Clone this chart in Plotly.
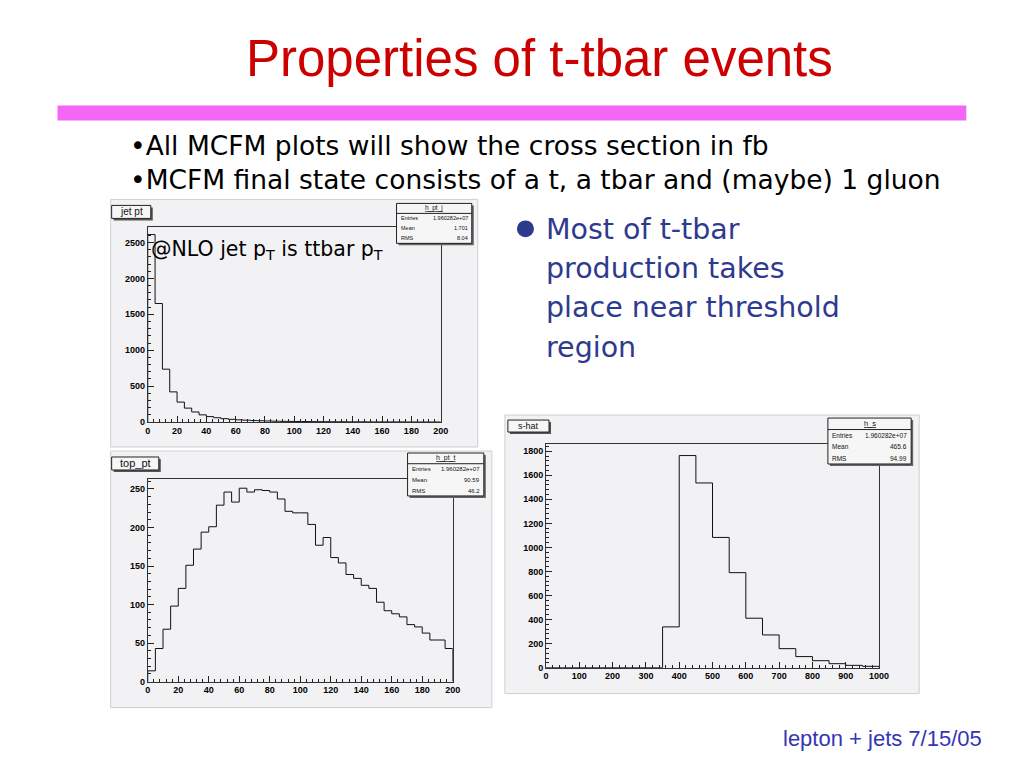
import plotly.graph_objects as go

# ---------------- data ----------------
jet_pt_edges = list(range(0, 205, 5))
jet_pt_values = [2610, 1650, 736, 420, 278, 194, 140, 100, 76, 60,
                 47, 38, 31, 26, 21, 18, 15, 12, 10, 9,
                 8, 7, 6, 5, 5, 4, 4, 3, 3, 3,
                 2, 2, 2, 2, 2, 1, 1, 1, 1, 1]

top_pt_edges = list(range(0, 205, 5))
top_pt_values = [14, 43, 68, 98, 121, 151, 172, 194, 201, 229,
                 246, 233, 251, 246, 249, 248, 246, 237, 221, 219,
                 219, 204, 177, 187, 161, 154, 139, 134, 125, 121,
                 103, 92, 88, 84, 74, 71, 63, 54, 54, 43]

shat_edges = list(range(0, 1050, 50))
shat_values = [0, 0, 0, 0, 0, 0, 0, 339, 1764, 1536,
               1083, 790, 411, 272, 158, 92, 58, 33, 19, 11]

stats_jet = ["h_pt_j", ("Entries", "1.960282e+07"), ("Mean", "1.701"), ("RMS", "8.04")]
stats_top = ["h_pt_t", ("Entries", "1.960282e+07"), ("Mean", "90.59"), ("RMS", "46.2")]
stats_shat = ["h_s", ("Entries", "1.960282e+07"), ("Mean", "465.6"), ("RMS", "94.99")]

# ---------------- helpers ----------------
OFF = 8  # page body margin
W, H = 1024 - 2 * OFF, 768 - 2 * OFF
SX, TX = 0.984, 4.8     # empirical screen correction
SY, TY = 0.995, -1.7


def X(px):
    return ((px - TX) / SX - OFF) / W


def Y(py):
    return 1 - ((py - TY) / SY - OFF) / H


def step_xy(edges, values):
    xs = [edges[0]] + list(edges) + [edges[-1]]
    ys = [0] + list(values) + [values[-1], 0]
    return xs, ys


fig = go.Figure()
shapes = []
annotations = []

TICKFONT = dict(family="Liberation Sans, Arial, sans-serif", size=9, color="#000", weight="bold")


def add_hist(idx, edges, values, xdom, ydom, yr, xd, xminor, yd, yminor):
    xs, ys = step_xy(edges, values)
    sfx = "" if idx == 1 else str(idx)
    fig.add_trace(go.Scatter(x=xs, y=ys, mode="lines", line=dict(color="#111", width=1, shape="hv"),
                             xaxis="x" + sfx, yaxis="y" + sfx, showlegend=False, hoverinfo="skip"))
    common = dict(showline=True, mirror=True, linecolor="#333", linewidth=1, showgrid=False,
                  zeroline=False, ticks="inside", ticklen=6, tickcolor="#222", tickwidth=1,
                  tickfont=TICKFONT, fixedrange=True, tick0=0)
    fig.layout["xaxis" + sfx] = dict(common, domain=[X(xdom[0]), X(xdom[1])], range=[edges[0], edges[-1]],
                                      dtick=xd, anchor="y" + sfx,
                                      minor=dict(ticks="inside", ticklen=3, dtick=xminor, tickcolor="#222"))
    fig.layout["yaxis" + sfx] = dict(common, domain=[Y(ydom[1]), Y(ydom[0])], range=[0, yr],
                                      dtick=yd, anchor="x" + sfx,
                                      minor=dict(ticks="inside", ticklen=3, dtick=yminor, tickcolor="#222"))


def canvas(x0, y0, x1, y1):
    shapes.append(dict(type="rect", xref="paper", yref="paper", x0=X(x0), x1=X(x1), y0=Y(y1), y1=Y(y0),
                       fillcolor="#f2f2f4", line=dict(color="#cfcfd2", width=1), layer="below"))


def pave(x0, y0, x1, y1, text, size):
    shapes.append(dict(type="rect", xref="paper", yref="paper", x0=X(x0 + 2), x1=X(x1 + 2), y0=Y(y1 + 2),
                       y1=Y(y0 + 2), fillcolor="#555", line=dict(width=0), layer="above"))
    shapes.append(dict(type="rect", xref="paper", yref="paper", x0=X(x0), x1=X(x1), y0=Y(y1), y1=Y(y0),
                       fillcolor="#f6f6f6", line=dict(color="#222", width=1), layer="above"))
    annotations.append(dict(x=X((x0 + x1) / 2), y=Y((y0 + y1) / 2), xref="paper", yref="paper", text=text,
                            showarrow=False, font=dict(family="Liberation Sans, Arial", size=size, color="#111"),
                            xanchor="center", yanchor="middle", borderpad=0))


def statbox(x0, y0, x1, y1, stats, size):
    shapes.append(dict(type="rect", xref="paper", yref="paper", x0=X(x0 + 2), x1=X(x1 + 2), y0=Y(y1 + 2),
                       y1=Y(y0 + 2), fillcolor="#666", line=dict(width=0), layer="above"))
    shapes.append(dict(type="rect", xref="paper", yref="paper", x0=X(x0), x1=X(x1), y0=Y(y1), y1=Y(y0),
                       fillcolor="#f6f6f6", line=dict(color="#222", width=1), layer="above"))
    rh = (y1 - y0) / 4
    shapes.append(dict(type="line", xref="paper", yref="paper", x0=X(x0), x1=X(x1), y0=Y(y0 + rh), y1=Y(y0 + rh),
                       line=dict(color="#222", width=1), layer="above"))
    f = dict(family="Liberation Sans, Arial", size=size, color="#111")
    annotations.append(dict(x=X((x0 + x1) / 2), y=Y(y0 + rh / 2), xref="paper", yref="paper",
                            text="<u>%s</u>" % stats[0], showarrow=False, font=dict(f, size=size + 1),
                            xanchor="center", yanchor="middle", borderpad=0))
    for i, (k, v) in enumerate(stats[1:]):
        yc = y0 + rh * (i + 1.5)
        annotations.append(dict(x=X(x0 + 3), y=Y(yc), xref="paper", yref="paper", text=k, showarrow=False,
                                font=f, xanchor="left", yanchor="middle", borderpad=0))
        annotations.append(dict(x=X(x1 - 3), y=Y(yc), xref="paper", yref="paper", text=v, showarrow=False,
                                font=f, xanchor="right", yanchor="middle", borderpad=0))


# ---------------- canvases ----------------
canvas(112, 198, 478, 446)
canvas(112, 450, 492, 707)
canvas(505, 414, 918, 693)

add_hist(1, jet_pt_edges, jet_pt_values, (149, 441), (226, 421), 2710, 20, 4, 500, 100)
add_hist(2, top_pt_edges, top_pt_values, (149, 453), (478, 681), 263, 20, 4, 50, 10)
add_hist(3, shat_edges, shat_values, (546, 878), (443, 667), 1860, 100, 20, 200, 40)

pave(113, 204, 152, 217, "jet pt", 10)
pave(113, 456, 160, 469, "top_pt", 11)
pave(508, 419, 549, 431, "s-hat", 9)

statbox(397, 202, 472, 242, stats_jet, 5.5)
statbox(408, 452, 484, 495, stats_top, 6)
statbox(827, 417, 910, 463, stats_shat, 6.5)

# ---------------- slide texts ----------------
annotations.append(dict(x=X(540), y=Y(57), xref="paper", yref="paper", text="Properties of t-tbar events",
                        showarrow=False, font=dict(family="Liberation Sans, Arial", size=51, color="#cc0000"),
                        xanchor="center", yanchor="middle", borderpad=0))
shapes.append(dict(type="rect", xref="paper", yref="paper", x0=X(59), x1=X(965), y0=Y(119), y1=Y(104),
                   fillcolor="#f466f4", line=dict(width=0), layer="below"))

bul_font = dict(family="DejaVu Sans, Liberation Sans", size=26.5, color="#000")
annotations.append(dict(x=X(130), y=Y(144), xref="paper", yref="paper",
                        text="•All MCFM plots will show the cross section in fb", showarrow=False,
                        font=bul_font, xanchor="left", yanchor="middle", borderpad=0))
annotations.append(dict(x=X(130), y=Y(178), xref="paper", yref="paper",
                        text="•MCFM final state consists of a t, a tbar and (maybe) 1 gluon", showarrow=False,
                        font=bul_font, xanchor="left", yanchor="middle", borderpad=0))

annotations.append(dict(x=X(151), y=Y(249), xref="paper", yref="paper",
                        text="@NLO jet p<sub>T</sub> is ttbar p<sub>T</sub>", showarrow=False,
                        font=dict(family="DejaVu Sans, Liberation Sans", size=20.5, color="#000"),
                        xanchor="left", yanchor="middle", borderpad=0))

blue = "#2e3a8e"
shapes.append(dict(type="circle", xref="paper", yref="paper", x0=X(517), x1=X(534), y0=Y(236), y1=Y(219),
                   fillcolor=blue, line=dict(width=0), layer="above"))
right_lines = ["Most of t-tbar", "production takes", "place near threshold", "region"]
for i, t in enumerate(right_lines):
    annotations.append(dict(x=X(545), y=Y(228 + 39.3 * i), xref="paper", yref="paper", text=t, showarrow=False,
                            font=dict(family="DejaVu Sans, Liberation Sans", size=28.5, color=blue),
                            xanchor="left", yanchor="middle", borderpad=0))

annotations.append(dict(x=X(982), y=Y(738), xref="paper", yref="paper", text="lepton + jets 7/15/05",
                        showarrow=False, font=dict(family="Liberation Sans, Arial", size=22, color="#3535b5"),
                        xanchor="right", yanchor="middle", borderpad=0))

fig.update_layout(width=W, height=H, autosize=False, margin=dict(l=0, r=0, t=0, b=0),
                  paper_bgcolor="white", plot_bgcolor="rgba(0,0,0,0)", shapes=shapes,
                  annotations=annotations, showlegend=False)

fig.write_html("out.html", config={"displayModeBar": False})
